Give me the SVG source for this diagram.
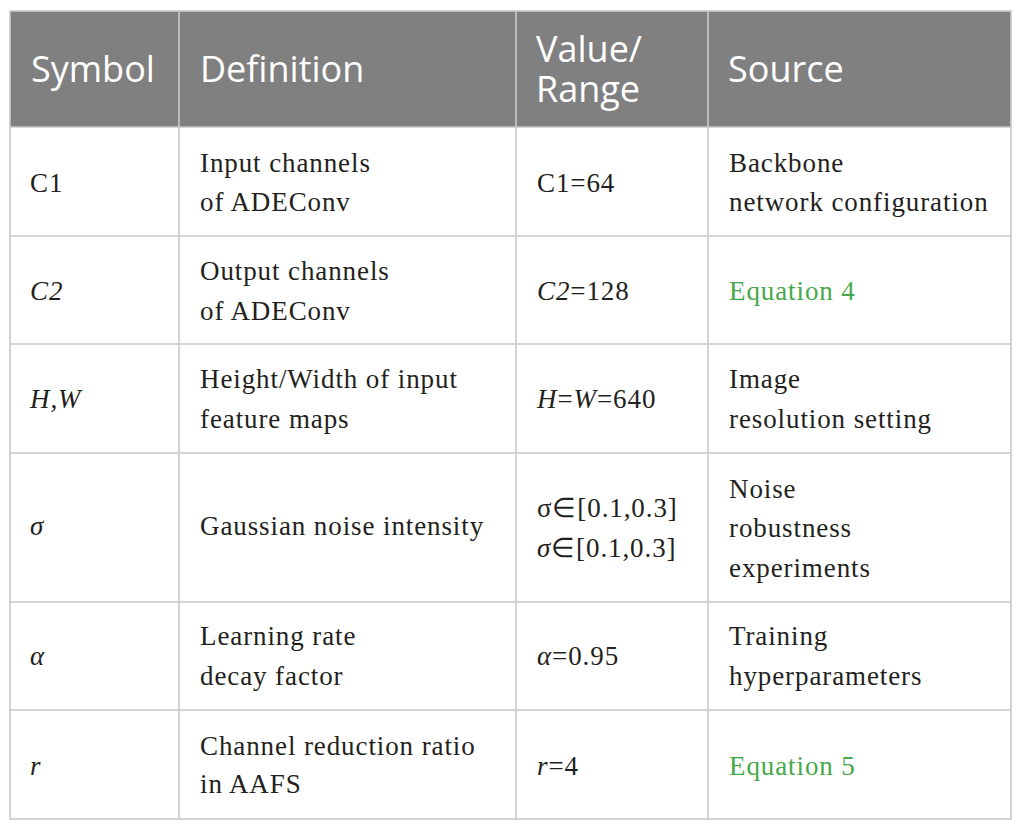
<svg xmlns="http://www.w3.org/2000/svg" width="1025" height="830" viewBox="0 0 1025 830">
<style>
.h{font-family:"Open Sans","DejaVu Sans",sans-serif;font-size:36px;fill:#ffffff}
.b{font-family:"Liberation Serif","Times New Roman",serif;font-size:27px;letter-spacing:0.9px;fill:#231f20}
.i{font-style:italic}
.g{fill:#45a949}
.ln{stroke:#c9c9c9;stroke-width:1.6;fill:none}
</style>
<rect width="1025" height="830" fill="#ffffff"/>
<g id="header">
<rect x="10" y="11" width="1001" height="116" fill="#808080"/>
<text class="h" x="31" y="82">Symbol</text>
<text class="h" x="200" y="82">Definition</text>
<text class="h" x="536" y="62">Value/</text>
<text class="h" x="536" y="102">Range</text>
<text class="h" x="728" y="82">Source</text>
</g>
<g id="grid">
<rect class="ln" x="10" y="11" width="1001" height="808"/>
<line class="ln" x1="179" y1="11" x2="179" y2="819"/>
<line class="ln" x1="516" y1="11" x2="516" y2="819"/>
<line class="ln" x1="708" y1="11" x2="708" y2="819"/>
<line class="ln" x1="10" y1="127" x2="1011" y2="127"/>
<line class="ln" x1="10" y1="236" x2="1011" y2="236"/>
<line class="ln" x1="10" y1="344" x2="1011" y2="344"/>
<line class="ln" x1="10" y1="453" x2="1011" y2="453"/>
<line class="ln" x1="10" y1="602" x2="1011" y2="602"/>
<line class="ln" x1="10" y1="710" x2="1011" y2="710"/>
</g>
<g id="row1">
<text class="b" x="30" y="192">C1</text>
<text class="b" x="200" y="172">Input channels</text>
<text class="b" x="200" y="211">of ADEConv</text>
<text class="b" x="537" y="192">C1=64</text>
<text class="b" x="729" y="172">Backbone</text>
<text class="b" x="729" y="211">network configuration</text>
</g>
<g id="row2">
<text class="b i" x="30" y="300">C2</text>
<text class="b" x="200" y="280">Output channels</text>
<text class="b" x="200" y="320">of ADEConv</text>
<text class="b" x="537" y="300"><tspan class="i">C2</tspan>=128</text>
<text class="b g" x="729" y="300">Equation 4</text>
</g>
<g id="row3">
<text class="b i" x="30" y="408">H,W</text>
<text class="b" x="200" y="388">Height/Width of input</text>
<text class="b" x="200" y="428">feature maps</text>
<text class="b" x="537" y="408"><tspan class="i">H</tspan>=<tspan class="i">W</tspan>=640</text>
<text class="b" x="729" y="388">Image</text>
<text class="b" x="729" y="428">resolution setting</text>
</g>
<g id="row4">
<text class="b i" x="30" y="535">σ</text>
<text class="b" x="200" y="535">Gaussian noise intensity</text>
<text class="b" x="537" y="517">σ∈[0.1,0.3]</text>
<text class="b" x="537" y="557"><tspan class="i">σ</tspan>∈[0.1,0.3]</text>
<text class="b" x="729" y="498">Noise</text>
<text class="b" x="729" y="537">robustness</text>
<text class="b" x="729" y="577">experiments</text>
</g>
<g id="row5">
<text class="b i" x="30" y="665">α</text>
<text class="b" x="200" y="645">Learning rate</text>
<text class="b" x="200" y="685">decay factor</text>
<text class="b" x="537" y="665"><tspan class="i">α</tspan>=0.95</text>
<text class="b" x="729" y="645">Training</text>
<text class="b" x="729" y="685">hyperparameters</text>
</g>
<g id="row6">
<text class="b i" x="30" y="775">r</text>
<text class="b" x="200" y="755">Channel reduction ratio</text>
<text class="b" x="200" y="793">in AAFS</text>
<text class="b" x="537" y="775"><tspan class="i">r</tspan>=4</text>
<text class="b g" x="729" y="775">Equation 5</text>
</g>
</svg>
